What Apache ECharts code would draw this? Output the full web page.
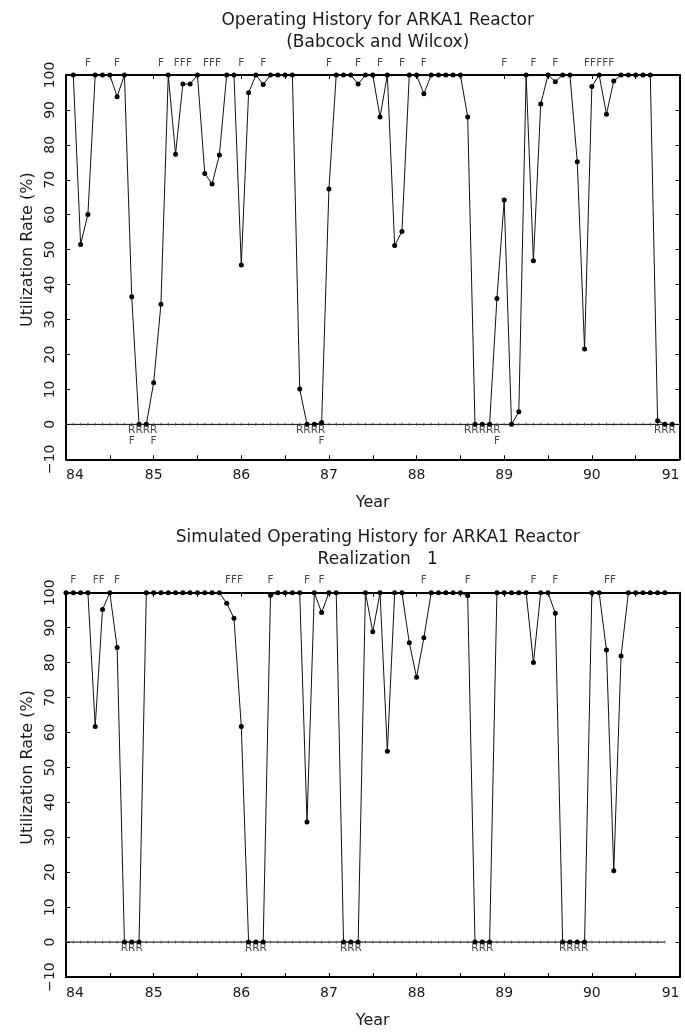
<!DOCTYPE html>
<html>
<head>
<meta charset="utf-8">
<script src="https://cdn.jsdelivr.net/npm/echarts@6/dist/echarts.min.js"></script>
<style>
html,body{margin:0;padding:0;background:#fff;}
#c{width:685px;height:1032px;}
</style>
</head>
<body>
<div id="c"></div>
<script>
// ---------- data ----------
const startYear = 84;
const yearTicks = [84, 85, 86, 87, 88, 89, 90, 91];
const yTicks = [-10, 0, 10, 20, 30, 40, 50, 60, 70, 80, 90, 100];

// Panel 1: observed history, first value is month 1 after start
const firstMonth1 = 1;
const util1 = [
  100, 51.5, 60.1, 100, 100, 100, 93.8, 100, 36.5, 0, 0, 11.9,
  34.4, 100, 77.3, 97.4, 97.4, 100, 71.8, 68.8, 77.1, 100, 100, 45.6,
  94.9, 100, 97.3, 100, 100, 100, 100, 10.1, 0, 0, 0.5, 67.4,
  100, 100, 100, 97.4, 100, 100, 88.0, 100, 51.2, 55.2, 100, 100,
  94.6, 100, 100, 100, 100, 100, 88.0, 0, 0, 0, 36.0, 64.2,
  0, 3.6, 100, 46.8, 91.7, 100, 98.1, 100, 100, 75.2, 21.6, 96.7,
  100, 88.8, 98.3, 100, 100, 100, 100, 100, 1.0, 0, 0
];
const topF1 = [3, 7, 13, 15, 16, 17, 19, 20, 21, 24, 27, 36, 40, 43, 46, 49, 60, 64, 67, 71, 72, 73, 74, 75];
const bottomR1 = [9, 10, 11, 12, 32, 33, 34, 35, 55, 56, 57, 58, 59, 81, 82, 83];
const bottomF1 = [9, 12, 35, 59];
const zeroSpan1 = [0, 84];

// Panel 2: simulated realization 1
const firstMonth2 = 0;
const util2 = [
  100, 100, 100, 100, 61.7, 95.2, 100, 84.3, 0, 0, 0, 100,
  100, 100, 100, 100, 100, 100, 100, 100, 100, 100, 97.0, 92.7,
  61.7, 0, 0, 0, 99.3, 100, 100, 100, 100, 34.4, 100, 94.3,
  100, 100, 0, 0, 0, 100, 88.8, 100, 54.6, 100, 100, 85.7,
  75.8, 87.1, 100, 100, 100, 100, 100, 99.1, 0, 0, 0, 100,
  100, 100, 100, 100, 80.0, 100, 100, 94.1, 0, 0, 0, 0,
  100, 100, 83.6, 20.4, 81.9, 100, 100, 100, 100, 100, 100
];
const topF2 = [1, 4, 5, 7, 22, 23, 24, 28, 33, 35, 49, 55, 64, 67, 74, 75];
const bottomR2 = [8, 9, 10, 25, 26, 27, 38, 39, 40, 56, 57, 58, 68, 69, 70, 71];
const bottomF2 = [];
const zeroSpan2 = [0, 82];

const title1 = 'Operating History for ARKA1 Reactor\n(Babcock and Wilcox)';
const title2 = 'Simulated Operating History for ARKA1 Reactor\nRealization   1';
const xName = 'Year';
const yName = 'Utilization Rate (%)';

// ---------- helpers ----------
const FONT = 'DejaVu Sans';
const INK = '#1a1a1a';
const mx = m => startYear + m / 12;
function groups(arr) {
  const g = [];
  arr.forEach(m => {
    const last = g[g.length - 1];
    if (last && m === last[last.length - 1] + 1) last.push(m); else g.push([m]);
  });
  return g;
}
function seriesPts(first, vals) { return vals.map((v, i) => [mx(first + i), v]); }

const G = [
  {left: 66, top: 75, width: 613.5, height: 384.3},
  {left: 66, top: 592.7, width: 613.5, height: 384.3}
];

function xAxes(gi) {
  const base = {
    type: 'value', gridIndex: gi, min: yearTicks[0], max: yearTicks[yearTicks.length - 1], interval: 0.5,
    axisLine: {show: true, onZero: false, lineStyle: {color: '#000', width: 2}},
    axisTick: {show: true, inside: true, length: 4, lineStyle: {color: '#000', width: 1}},
    splitLine: {show: false}
  };
  return [
    Object.assign({}, base, {
      position: 'bottom',
      axisLabel: {show: true, margin: 9, fontFamily: FONT, fontSize: 14, color: INK,
        alignMinLabel: 'left', alignMaxLabel: 'right',
        formatter: v => (Math.abs(v - Math.round(v)) < 1e-6 && yearTicks.includes(Math.round(v))) ? String(Math.round(v)) : ''},
      name: xName, nameLocation: 'middle', nameGap: 36,
      nameTextStyle: {fontFamily: FONT, fontSize: 16, color: INK}
    }),
    Object.assign({}, base, {position: 'top', axisLabel: {show: false}})
  ];
}
function yAxes(gi) {
  const base = {
    type: 'value', gridIndex: gi, min: yTicks[0], max: yTicks[yTicks.length - 1], interval: 10,
    axisLine: {show: true, onZero: false, lineStyle: {color: '#000', width: 2}},
    axisTick: {show: true, inside: true, length: 4, lineStyle: {color: '#000', width: 1}},
    splitLine: {show: false}
  };
  return [
    Object.assign({}, base, {
      position: 'left',
      axisLabel: {show: true, rotate: 90, margin: 9, fontFamily: FONT, fontSize: 14, color: INK,
        formatter: v => v < 0 ? '\u2212' + Math.abs(v) : String(v)}
    }),
    Object.assign({}, base, {position: 'right', axisLabel: {show: false}})
  ];
}

function panelSeries(pi, first, vals, topF, botR, botF, span) {
  const xi = pi * 2, yi = pi * 2;
  const out = [];
  // zero reference line
  out.push({
    type: 'line', xAxisIndex: xi, yAxisIndex: yi, silent: true, symbol: 'none', z: 2,
    lineStyle: {color: '#000', width: 1},
    data: [[mx(span[0]), 0], [mx(span[1]), 0]]
  });
  const tickMonths = [];
  for (let m = span[0]; m <= span[1]; m++) tickMonths.push(m);
  out.push({
    type: 'scatter', xAxisIndex: xi, yAxisIndex: yi, silent: true, z: 2,
    symbol: 'rect', symbolSize: [1, 3], itemStyle: {color: '#444'},
    data: tickMonths.map(m => [mx(m), 0])
  });
  // data line
  out.push({
    type: 'line', xAxisIndex: xi, yAxisIndex: yi, silent: true, z: 4,
    symbol: 'circle', symbolSize: 5, showAllSymbol: true, clip: false,
    itemStyle: {color: '#000'},
    lineStyle: {color: '#111', width: 1},
    data: seriesPts(first, vals)
  });
  // F / R letter markers
  const lab = dy => ({show: true, position: 'inside', offset: [0, dy], formatter: p => p.name,
    fontFamily: FONT, fontSize: 10.5, color: INK});
  out.push({
    type: 'scatter', xAxisIndex: xi, yAxisIndex: yi, silent: true, z: 6, clip: false,
    symbolSize: 1, itemStyle: {color: 'rgba(0,0,0,0)'},
    label: lab(-12),
    data: groups(topF).map(g => ({name: 'F'.repeat(g.length), value: [mx((g[0] + g[g.length - 1]) / 2), 100]}))
  });
  out.push({
    type: 'scatter', xAxisIndex: xi, yAxisIndex: yi, silent: true, z: 6, clip: false,
    symbolSize: 1, itemStyle: {color: 'rgba(0,0,0,0)'},
    label: lab(6),
    data: groups(botR).map(g => ({name: 'R'.repeat(g.length), value: [mx((g[0] + g[g.length - 1]) / 2), 0]}))
  });
  out.push({
    type: 'scatter', xAxisIndex: xi, yAxisIndex: yi, silent: true, z: 6, clip: false,
    symbolSize: 1, itemStyle: {color: 'rgba(0,0,0,0)'},
    label: lab(17),
    data: botF.map(m => ({name: 'F', value: [mx(m), 0]}))
  });
  return out;
}

const chart = echarts.init(document.getElementById('c'), null, {renderer: 'canvas'});
const gridCenter = G[0].left + G[0].width / 2;
const option = {
  animation: false,
  backgroundColor: '#fff',
  title: [
    {text: title1, left: gridCenter, top: 5, textAlign: 'center',
      textStyle: {fontFamily: FONT, fontSize: 17, fontWeight: 'normal', color: INK, lineHeight: 22}},
    {text: title2, left: gridCenter, top: 522, textAlign: 'center',
      textStyle: {fontFamily: FONT, fontSize: 17, fontWeight: 'normal', color: INK, lineHeight: 22}}
  ],
  grid: G.map(g => Object.assign({containLabel: false}, g)),
  xAxis: [...xAxes(0), ...xAxes(1)],
  yAxis: [...yAxes(0), ...yAxes(1)],
  series: [
    ...panelSeries(0, firstMonth1, util1, topF1, bottomR1, bottomF1, zeroSpan1),
    ...panelSeries(1, firstMonth2, util2, topF2, bottomR2, bottomF2, zeroSpan2)
  ]
};
chart.setOption(option);

// rotated y-axis titles, centred on the 0..100 range
const graphics = [0, 1].map(pi => {
  const yc = chart.convertToPixel({yAxisIndex: pi * 2}, 50);
  return {
    type: 'text', x: 28, y: yc, rotation: Math.PI / 2, silent: true,
    style: {text: yName, fontFamily: FONT, fontSize: 16, fill: INK, align: 'center', verticalAlign: 'middle'}
  };
});
chart.setOption({graphic: graphics});
</script>
</body>
</html>
